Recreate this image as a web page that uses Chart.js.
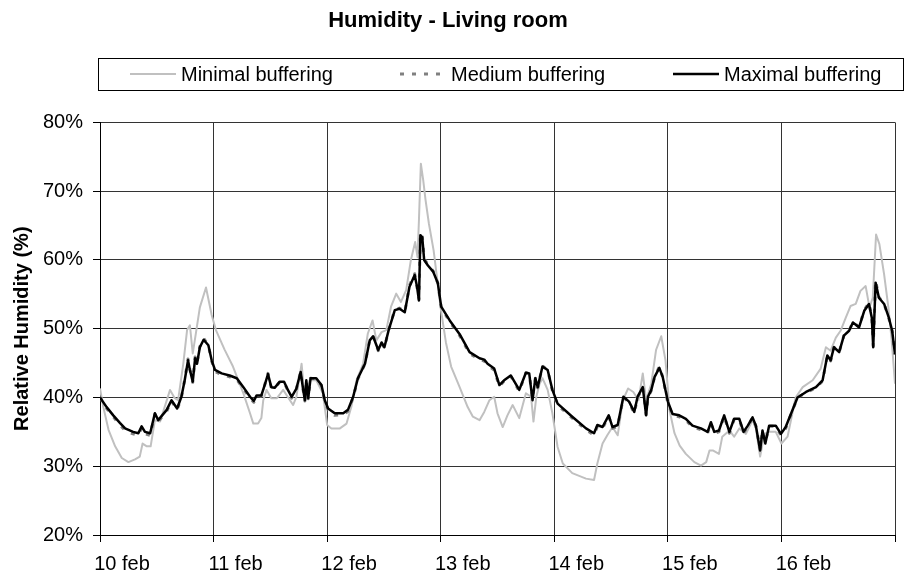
<!DOCTYPE html>
<html>
<head>
<meta charset="utf-8">
<script src="https://cdn.jsdelivr.net/npm/chart.js@4.4.1/dist/chart.umd.min.js"></script>
<style>
html, body { margin: 0; padding: 0; background: #fff; }
#wrap { width: 905px; height: 578px; }
</style>
</head>
<body>
<div id="wrap"><canvas id="chart"></canvas></div>
<script>
// hours since 10 feb 00:00
const maxHours = [
    0, 1.4, 2.8, 4.2, 5.3, 7, 8.1, 8.8, 9.5, 10.6,
    11.6, 12.3, 14.1, 15.1, 16.3, 17.2, 17.9, 18.6, 19, 19.6,
    20.1, 20.5, 21.1, 21.9, 22.9, 23.6, 24.3, 25.7, 27.4, 28.9,
    30.3, 31.7, 32.5, 33.1, 34.1, 34.8, 35.5, 36.2, 36.9, 38,
    38.9, 39.7, 40.5, 41.5, 42.4, 42.9, 43.3, 43.6, 44, 44.5,
    45.7, 46.8, 47.5, 48.2, 49.6, 51.4, 52.4, 53.5, 54.5, 56,
    57, 57.7, 58.8, 59.5, 60.1, 61, 62.3, 63.3, 64.4, 65.4,
    66.5, 67, 67.4, 67.7, 68.1, 68.5, 69.3, 70.4, 71.4, 72.1,
    73.9, 76, 78.1, 80.2, 81.2, 81.9, 83.3, 84.4, 85.4, 86.8,
    88.6, 90, 90.7, 91.4, 92, 92.5, 93.5, 94.6, 95.6, 96.7,
    99.8, 102.7, 104.4, 105.1, 106.2, 107.5, 108.3, 109.4, 110.6, 111.8,
    112.9, 113.6, 114.7, 115.4, 115.8, 116.5, 117.2, 118.2, 118.9, 120,
    121, 122.4, 123.8, 125.2, 127, 128.4, 129.1, 129.8, 130.8, 131.9,
    133, 134, 135.1, 136, 136.9, 137.9, 138.6, 139.5, 140, 140.6,
    141.4, 142.8, 143.9, 144.9, 146, 147.4, 149.2, 151.3, 152.7, 153.7,
    154.4, 155.1, 156.2, 157.2, 158.3, 159.1, 160.4, 161.5, 162.5, 163.1,
    163.4, 163.9, 164.6, 165.7, 166.7, 167.4, 168
];
const maximal = [
    40.0, 38.6, 37.4, 36.3, 35.5, 35.0, 34.8, 35.8, 35.0, 34.8,
    37.7, 36.7, 38.2, 39.6, 38.4, 40.1, 42.5, 45.4, 44.0, 42.3,
    45.7, 44.9, 47.3, 48.4, 47.6, 45.4, 44.0, 43.5, 43.2, 42.8,
    41.5, 40.1, 39.5, 40.3, 40.3, 41.8, 43.4, 41.5, 41.4, 42.3,
    42.3, 41.1, 40.1, 41.3, 43.7, 41.3, 39.6, 42.5, 39.9, 42.8,
    42.8, 41.8, 39.6, 38.4, 37.7, 37.7, 38.2, 40.1, 42.8, 44.9,
    48.3, 48.9, 46.9, 48.0, 47.3, 49.8, 52.7, 52.9, 52.4, 56.1,
    57.8, 56.1, 54.1, 63.6, 63.3, 60.0, 59.2, 58.3, 56.6, 53.2,
    51.2, 49.2, 46.6, 45.7, 45.5, 44.9, 44.2, 41.8, 42.5, 43.2,
    41.1, 43.6, 43.5, 39.6, 42.8, 41.5, 44.5, 44.0, 41.1, 39.1,
    37.2, 35.5, 34.8, 36.0, 35.7, 37.4, 35.7, 36.0, 40.1, 39.4,
    37.9, 40.1, 41.5, 37.4, 40.1, 41.1, 43.0, 44.3, 43.0, 39.4,
    37.6, 37.4, 36.9, 35.9, 35.5, 35.0, 36.4, 35.0, 35.2, 37.4,
    35.0, 36.9, 36.9, 35.0, 35.9, 37.1, 35.9, 32.3, 35.2, 33.3,
    35.9, 35.9, 34.7, 35.7, 37.6, 40.0, 40.8, 41.5, 42.5, 46.1,
    45.4, 47.3, 46.6, 49.0, 49.7, 50.9, 50.2, 52.6, 53.6, 51.6,
    47.3, 56.7, 54.5, 53.6, 51.6, 49.7, 46.3
];
const medium = [
    40.0, 38.4, 37.2, 36.0, 35.2, 34.7, 34.5, 35.6, 34.7, 34.5,
    37.6, 36.5, 38.0, 39.5, 38.2, 40.0, 42.6, 45.6, 44.1, 42.2,
    45.9, 45.0, 47.4, 48.6, 47.6, 45.3, 43.8, 43.3, 43.0, 42.6,
    41.3, 39.9, 39.3, 40.1, 40.2, 41.8, 43.5, 41.4, 41.3, 42.3,
    42.2, 41.0, 39.9, 41.2, 43.8, 41.2, 39.5, 42.5, 39.8, 42.8,
    42.7, 41.7, 39.4, 38.2, 37.4, 37.5, 38.0, 40.0, 42.7, 44.9,
    48.4, 49.0, 46.8, 47.9, 47.2, 49.8, 52.8, 53.0, 52.4, 56.3,
    58.0, 56.0, 54.3, 63.9, 63.5, 60.2, 59.3, 58.4, 56.6, 53.1,
    51.0, 49.0, 46.4, 45.5, 45.3, 44.7, 44.0, 41.6, 42.4, 43.1,
    40.9, 43.6, 43.5, 39.8, 42.8, 41.4, 44.6, 44.0, 41.0, 38.9,
    37.0, 35.3, 34.5, 35.8, 35.5, 37.3, 35.5, 35.8, 40.0, 39.3,
    37.7, 40.0, 41.5, 37.5, 40.0, 41.0, 43.0, 44.5, 43.0, 39.2,
    37.4, 37.2, 36.7, 35.7, 35.3, 34.8, 36.3, 34.8, 35.0, 37.3,
    34.8, 36.8, 36.8, 34.8, 35.8, 37.1, 35.8, 32.5, 35.1, 33.5,
    35.8, 35.8, 34.5, 35.5, 37.5, 40.0, 40.7, 41.4, 42.4, 46.1,
    45.3, 47.3, 46.6, 49.0, 49.7, 51.0, 50.2, 52.7, 53.8, 51.6,
    47.5, 57.0, 54.6, 53.6, 51.5, 49.6, 46.2
];
const minHours = [
    0, 0.7, 1.8, 3.2, 4.6, 6, 7.4, 8.4, 9, 9.9,
    10.7, 11.6, 12.7, 14.8, 15.8, 16.5, 17.6, 18.4, 19, 19.6,
    20.3, 21.1, 22.4, 23.6, 24.5, 26.3, 28.1, 30.3, 31.7, 32.4,
    33.4, 34.1, 34.5, 35.2, 36.2, 37.4, 38.7, 40.8, 41.5, 42.6,
    43.3, 44.3, 45.7, 47.1, 48, 48.9, 50.7, 52.1, 53.1, 54.2,
    55.6, 56.6, 57.6, 58.4, 59.5, 60.5, 61.5, 62.6, 63.6, 64.7,
    65.7, 66.6, 67.1, 67.4, 67.8, 68.3, 68.8, 69.5, 70.5, 71.2,
    72.1, 73.1, 74.2, 76, 77.7, 78.8, 80.2, 81.2, 82.3, 83.3,
    84, 85.1, 86.1, 87.2, 88.6, 90, 91.1, 91.6, 92.2, 92.9,
    93.5, 94.6, 95.6, 96.7, 97.8, 99.8, 102.7, 104.4, 105.1, 106.2,
    107.2, 108.3, 109.4, 110.5, 111.6, 112.7, 113.8, 114.7, 115.4, 116.5,
    117.5, 118.6, 119.5, 120.4, 121.4, 122.5, 123.8, 125.6, 127, 128.1,
    128.8, 129.5, 130.8, 131.5, 133, 134, 135.1, 136.5, 137.9, 138.6,
    139.5, 140.4, 141.4, 142.8, 144, 145.3, 147, 148.5, 150.6, 152.3,
    153.4, 154.4, 155.5, 156.5, 157.6, 158.6, 159.7, 160.7, 161.8, 162.6,
    163.3, 164, 164.7, 165.7, 166.6, 167.3, 168
];
const minimal = [
    41.3, 38.6, 35.3, 32.9, 31.2, 30.6, 31.0, 31.4, 33.3, 32.9,
    32.9, 36.7, 36.5, 41.1, 39.9, 39.6, 44.9, 49.8, 50.5, 46.4,
    49.5, 53.1, 56.0, 52.0, 49.8, 47.0, 44.5, 40.6, 37.7, 36.2,
    36.2, 37.0, 39.6, 41.1, 39.9, 39.9, 41.1, 38.9, 40.1, 44.9,
    39.6, 42.5, 42.5, 40.6, 36.0, 35.5, 35.5, 36.2, 38.6, 42.5,
    44.9, 49.3, 51.2, 48.3, 49.5, 49.8, 53.2, 55.1, 53.9, 55.6,
    60.0, 62.6, 60.4, 65.8, 74.0, 71.6, 68.7, 65.3, 61.4, 57.5,
    52.5, 48.0, 44.5, 41.5, 38.6, 37.2, 36.7, 37.9, 39.6, 40.1,
    37.7, 35.7, 37.4, 38.9, 37.0, 40.6, 40.1, 36.5, 40.1, 42.0,
    42.8, 41.1, 37.7, 32.8, 30.4, 29.0, 28.2, 28.0, 30.4, 33.3,
    34.5, 35.7, 34.5, 39.6, 41.3, 40.8, 39.6, 43.5, 39.6, 42.0,
    46.9, 48.9, 45.4, 38.0, 34.8, 33.0, 31.8, 30.6, 30.1, 30.6,
    32.3, 32.3, 31.8, 34.3, 35.2, 34.3, 35.5, 34.7, 36.7, 35.5,
    31.4, 34.7, 35.0, 35.0, 33.3, 34.3, 40.0, 41.5, 42.5, 44.2,
    47.3, 46.8, 48.7, 49.7, 51.6, 53.3, 53.6, 55.5, 56.2, 53.1,
    54.5, 63.7, 62.3, 57.9, 53.1, 48.3, 42.0
];
const dayLabels = ['10 feb', '11 feb', '12 feb', '13 feb', '14 feb', '15 feb', '16 feb'];
const legendOffsets = [32, 302, 575];

const FONT = '"Liberation Sans", Arial, sans-serif';
Chart.defaults.font.family = FONT;
Chart.defaults.color = '#000';

function toPoints(xs, ys) {
    return xs.map((x, i) => ({ x: x, y: ys[i] }));
}

// legend drawn in a framed box, like the original
const boxLegend = {
    id: 'boxLegend',
    afterDraw(chart) {
        const ctx = chart.ctx;
        const area = chart.chartArea;
        const top = 58, height = 32;
        const left = area.left - 2;
        const right = chart.width - 2;
        const cy = top + height / 2;
        ctx.save();
        ctx.strokeStyle = '#000';
        ctx.lineWidth = 1;
        ctx.strokeRect(left + 0.5, top + 0.5, right - left, height);
        ctx.font = '20px ' + FONT;
        ctx.textBaseline = 'middle';
        ctx.fillStyle = '#000';
        chart.data.datasets.forEach((ds, i) => {
            const x = left + legendOffsets[i];
            ctx.beginPath();
            ctx.strokeStyle = ds.borderColor;
            ctx.lineWidth = ds.borderWidth;
            ctx.setLineDash(ds.borderDash || []);
            ctx.moveTo(x, cy);
            ctx.lineTo(x + 46, cy);
            ctx.stroke();
            ctx.setLineDash([]);
            ctx.fillText(ds.label, x + 51, cy + 1);
        });
        ctx.restore();
    }
};

const ctx = document.getElementById('chart').getContext('2d');
new Chart(ctx, {
    type: 'line',
    data: {
        datasets: [{
            label: 'Minimal buffering',
            data: toPoints(minHours, minimal),
            borderColor: '#c0c0c0',
            borderWidth: 2,
            order: 3
        }, {
            label: 'Medium buffering',
            data: toPoints(maxHours, medium),
            borderColor: '#808080',
            borderWidth: 3,
            borderDash: [4, 8],
            order: 2
        }, {
            label: 'Maximal buffering',
            data: toPoints(maxHours, maximal),
            borderColor: '#000000',
            borderWidth: 2.5,
            order: 1
        }]
    },
    options: {
        responsive: true,
        maintainAspectRatio: false,
        animation: false,
        layout: { padding: { left: 0, right: 9, top: 0, bottom: 2 } },
        elements: {
            point: { radius: 0 },
            line: { tension: 0, borderJoinStyle: 'round' }
        },
        plugins: {
            legend: { display: false },
            tooltip: { enabled: false },
            title: {
                display: true,
                text: 'Humidity - Living room',
                font: { size: 22, weight: 'bold' },
                color: '#000',
                padding: { top: 8, bottom: 88 }
            }
        },
        scales: {
            x: {
                type: 'linear',
                min: 0,
                max: 168,
                grid: { color: '#333', tickColor: '#000', tickLength: 7 },
                border: { color: '#000' },
                ticks: {
                    stepSize: 24,
                    autoSkip: false,
                    maxRotation: 0,
                    padding: 10,
                    labelOffset: 22,
                    font: { size: 20 },
                    color: '#000',
                    callback: v => dayLabels[v / 24] || ''
                },
                afterFit: scale => { scale.height = 41; }
            },
            y: {
                min: 20,
                max: 80,
                grid: { color: '#333', tickColor: '#000', tickLength: 7 },
                border: { color: '#000' },
                ticks: {
                    stepSize: 10,
                    padding: 10,
                    font: { size: 20 },
                    color: '#000',
                    callback: v => v + '%'
                },
                title: {
                    display: true,
                    text: 'Relative Humidity (%)',
                    font: { size: 20, weight: 'bold' },
                    color: '#000',
                    padding: { top: 10, bottom: 0 }
                },
                afterFit: scale => { scale.width = 100; }
            }
        }
    },
    plugins: [boxLegend]
});
</script>
</body>
</html>
